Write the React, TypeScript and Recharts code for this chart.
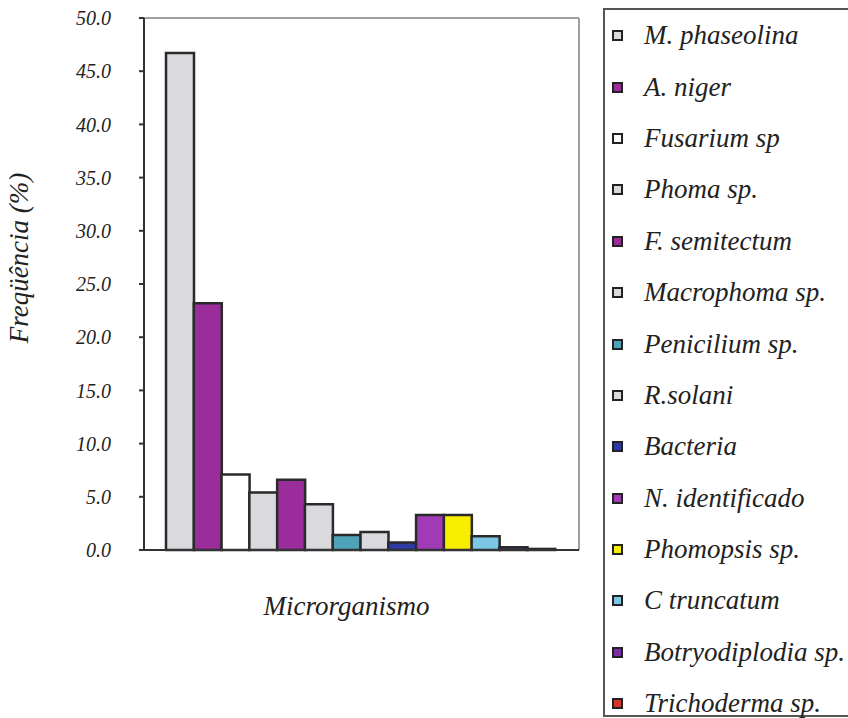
import { BarChart, Bar, XAxis, YAxis, Cell, Legend, CartesianGrid } from "recharts";

const organisms = [
  "M. phaseolina",
  "A. niger",
  "Fusarium sp",
  "Phoma sp.",
  "F. semitectum",
  "Macrophoma sp.",
  "Penicilium sp.",
  "R.solani",
  "Bacteria",
  "N. identificado",
  "Phomopsis sp.",
  "C truncatum",
  "Botryodiplodia sp.",
  "Trichoderma sp.",
];

const frequency = [46.7, 23.2, 7.1, 5.4, 6.6, 4.3, 1.4, 1.7, 0.7, 3.3, 3.3, 1.3, 0.25, 0.1];

const colors = [
  "#d9d9de",
  "#9a2c9c",
  "#ffffff",
  "#d9d9de",
  "#9a2c9c",
  "#d9d9de",
  "#4fa3b8",
  "#d9d9de",
  "#2e3aa6",
  "#a23cb6",
  "#f7ee00",
  "#7cc6e6",
  "#7a2ea6",
  "#d8342c",
];

const yTicks = [0, 5, 10, 15, 20, 25, 30, 35, 40, 45, 50];

const data = organisms.map((name, i) => ({ name, value: frequency[i] }));

const serif = "'Liberation Serif', 'Times New Roman', serif";

const renderLegend = () => (
  <div
    style={{
      borderTop: "2px solid #555",
      borderLeft: "2px solid #555",
      borderBottom: "2px solid #555",
      height: 709,
      boxSizing: "border-box",
      fontFamily: serif,
      fontStyle: "italic",
      fontSize: 27,
      color: "#222",
      background: "#fff",
    }}
  >
    {organisms.map((name, i) => (
      <div
        key={name}
        style={{ display: "flex", alignItems: "center", height: 51.4 }}
      >
        <span
          style={{
            width: 7,
            height: 7,
            marginLeft: 7,
            marginRight: 21,
            border: "2.5px solid #222",
            background: colors[i],
            flexShrink: 0,
          }}
        />
        <span style={{ whiteSpace: "nowrap" }}>{name}</span>
      </div>
    ))}
  </div>
);

const App = () => {
  return (
    <div style={{ position: "absolute", left: 0, top: 0, background: "#fff" }}>
      <BarChart
        width={848}
        height={718}
        data={data}
        barCategoryGap={0}
        margin={{ top: 18, right: 269, bottom: 0, left: 0 }}
      >
        {/* light frame on the top and right of the plot */}
        <CartesianGrid
          stroke="#a0a0a0"
          strokeWidth={2}
          horizontalCoordinatesGenerator={({ offset }: any) => [offset.top]}
          verticalCoordinatesGenerator={({ offset }: any) => [offset.left + offset.width]}
        />
        <XAxis
          dataKey="name"
          height={168}
          padding={{ left: 22, right: 24 }}
          tick={false}
          tickLine={false}
          axisLine={{ stroke: "#333", strokeWidth: 2 }}
          label={({ viewBox }: any) => (
            <text
              x={viewBox.x + viewBox.width / 2 - 15}
              y={viewBox.y + 65}
              textAnchor="middle"
              fontFamily={serif}
              fontStyle="italic"
              fontSize={27}
              fill="#222"
            >
              Microrganismo
            </text>
          )}
        />
        <YAxis
          width={144}
          domain={[0, 50]}
          ticks={yTicks}
          interval={0}
          tickFormatter={(v: number) => v.toFixed(1)}
          tickSize={5}
          tickMargin={28}
          tickLine={{ stroke: "#333", strokeWidth: 2 }}
          axisLine={{ stroke: "#333", strokeWidth: 2 }}
          tick={{ fontFamily: serif, fontStyle: "italic", fontSize: 20, fill: "#222" }}
          label={({ viewBox }: any) => (
            <text
              x={viewBox.x + 28}
              y={258}
              transform={`rotate(-90 ${viewBox.x + 28} 258)`}
              textAnchor="middle"
              fontFamily={serif}
              fontStyle="italic"
              fontSize={27}
              fill="#222"
            >
              Freqüência (%)
            </text>
          )}
        />
        <Legend
          layout="vertical"
          align="center"
          verticalAlign="middle"
          content={renderLegend}
          wrapperStyle={{ left: 603, top: 8, width: 260, height: 709 }}
        />
        <Bar
          dataKey="value"
          stroke="#2a2a2a"
          strokeWidth={2.5}
          isAnimationActive={false}
        >
          {data.map((entry, index) => (
            <Cell key={`cell-${index}`} fill={colors[index]} />
          ))}
        </Bar>
      </BarChart>
    </div>
  );
};

export default App;
